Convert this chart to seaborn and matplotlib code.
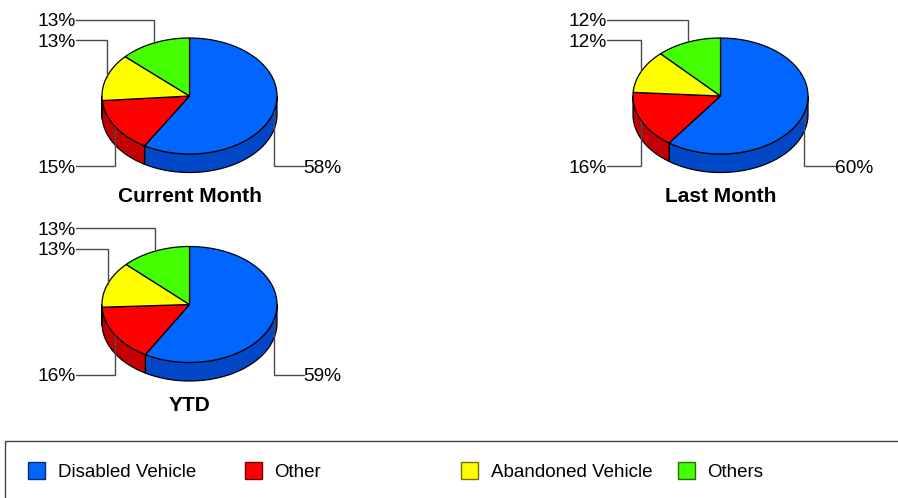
import numpy as np
import matplotlib
matplotlib.use("Agg")
import matplotlib.pyplot as plt
from matplotlib.patches import Polygon, Rectangle
from matplotlib.colors import to_rgb
import seaborn as sns

# ---------------- data ----------------
categories = ["Disabled Vehicle", "Other", "Abandoned Vehicle", "Others"]
titles = ["Current Month", "Last Month", "YTD"]
current_month = [58, 15, 13, 13]
last_month = [60, 16, 12, 12]
ytd = [59, 16, 13, 13]
series = [current_month, last_month, ytd]

# ---------------- style ----------------
sns.set_theme(style="white")
plt.rcParams['font.family'] = ['Liberation Sans', 'DejaVu Sans']

top_colors = sns.color_palette(["#0066FF", "#FF0000", "#FFFF00", "#44FF00"])
side_colors = sns.color_palette(["#0048C8", "#C40000", "#C8C800", "#33C800"])

W, H = 898, 498
fig = plt.figure(figsize=(W / 100, H / 100), dpi=100)
ax = fig.add_axes([0, 0, 1, 1])
ax.set_xlim(0, W)
ax.set_ylim(H, 0)
ax.axis('off')

centers = [(189.5, 96.0), (720.5, 96.0), (189.5, 304.5)]
A, B, D = 87.5, 58.0, 18.5
LABEL_FS = 13.8
TITLE_FS = 15
EDGE_LW = 0.9
LINE_COLOR = "#4a4a4a"


def pt(cx, cy, deg):
    th = np.radians(deg)
    return cx + A * np.cos(th), cy - B * np.sin(th)


def arc(cx, cy, d0, d1, n=80, dy=0.0):
    degs = np.linspace(d0, d1, n)
    th = np.radians(degs)
    return np.column_stack([cx + A * np.cos(th), cy - B * np.sin(th) + dy])


for (cx, cy), vals, title in zip(centers, series, titles):
    vals = np.asarray(vals, dtype=float)
    fracs = vals / vals.sum()
    starts = 90 - 360 * np.concatenate([[0], np.cumsum(fracs)[:-1]])
    ends = starts - 360 * fracs

    # side faces (front half: angles in [-180, 0])
    for i in range(len(vals)):
        lo = max(ends[i], -180)
        hi = min(starts[i], 0)
        if hi > lo:
            top = arc(cx, cy, lo, hi)
            bot = arc(cx, cy, hi, lo, dy=D)
            poly = Polygon(np.vstack([top, bot]), closed=True,
                           facecolor=side_colors[i], edgecolor="black",
                           lw=EDGE_LW, joinstyle="round", zorder=2)
            ax.add_patch(poly)

    # top wedges
    for i in range(len(vals)):
        pts = np.vstack([[cx, cy], arc(cx, cy, starts[i], ends[i])])
        ax.add_patch(Polygon(pts, closed=True, facecolor=top_colors[i],
                             edgecolor="black", lw=EDGE_LW,
                             joinstyle="round", zorder=3))

    # labels with elbow connectors
    mids = (starts + ends) / 2
    anchors = [pt(cx, cy, m) for m in mids]
    upper = [i for i in range(len(vals)) if np.sin(np.radians(mids[i])) > 0]
    upper_sorted = sorted(upper, key=lambda i: anchors[i][1])
    row_y = {}
    for k, i in enumerate(upper_sorted):
        row_y[i] = cy - 76.5 + 20.5 * k
    for i in range(len(vals)):
        if i not in row_y:
            row_y[i] = cy + 70.0
    for i in range(len(vals)):
        px, py = anchors[i]
        ly = row_y[i]
        left = np.cos(np.radians(mids[i])) < 0
        tx = cx - 113.5 if left else cx + 114.0
        ax.plot([px, px, tx], [py, ly, ly], color=LINE_COLOR, lw=1.0,
                zorder=4, solid_joinstyle="miter")
        ax.text(tx, ly, f"{vals[i]:.0f}%", ha="right" if left else "left",
                va="center_baseline", fontsize=LABEL_FS, color="black",
                zorder=5)

    ax.text(cx, cy + 98.5, title, ha="center", va="center_baseline",
            fontsize=TITLE_FS, fontweight="bold", color="black")

# ---------------- legend ----------------
ax.add_patch(Rectangle((5, 441), 1000, 100, facecolor="none",
                       edgecolor="#444444", lw=1.0, zorder=1))
for i, name in enumerate(categories):
    x0 = 28 + 216.5 * i
    edge = tuple(np.array(to_rgb(top_colors[i])) * 0.45)
    ax.add_patch(Rectangle((x0, 462), 17, 17, facecolor=top_colors[i],
                           edgecolor=edge, lw=1.0, zorder=3))
    ax.text(x0 + 30, 470.8, name, ha="left", va="center_baseline",
            fontsize=13.5, color="black")

fig.savefig("out.png", dpi=100)
